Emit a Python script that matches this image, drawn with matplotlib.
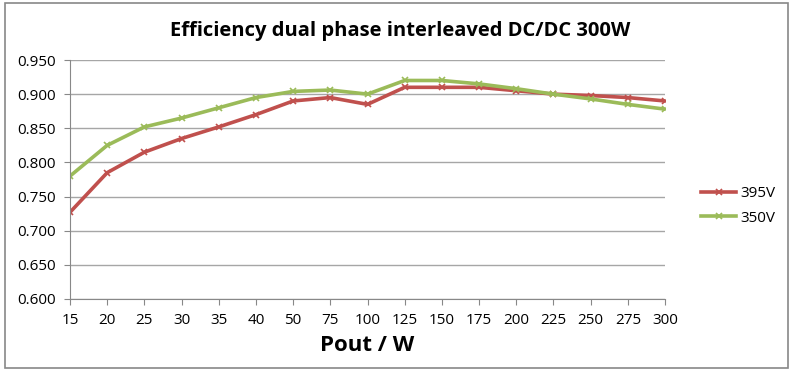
import matplotlib
matplotlib.use("Agg")
import matplotlib.pyplot as plt
from matplotlib.patches import Rectangle

plt.rcParams['font.family'] = ['Open Sans', 'DejaVu Sans']

categories = ["15", "20", "25", "30", "35", "40", "50", "75", "100", "125",
              "150", "175", "200", "225", "250", "275", "300"]
v395 = [0.727, 0.785, 0.815, 0.835, 0.852, 0.870, 0.890, 0.895, 0.885, 0.910,
        0.910, 0.910, 0.905, 0.900, 0.898, 0.895, 0.890]
v350 = [0.780, 0.825, 0.852, 0.865, 0.880, 0.895, 0.904, 0.906, 0.900, 0.920,
        0.920, 0.915, 0.908, 0.900, 0.893, 0.885, 0.878]
yticks = [0.600, 0.650, 0.700, 0.750, 0.800, 0.850, 0.900, 0.950]

fig = plt.figure(figsize=(8, 3.77), dpi=100)
ax = fig.add_axes([70/800, 1-299/377, (665-70)/800, (299-60)/377])

x = list(range(len(categories)))
ax.plot(x, v395, color='#C0504D', lw=2.6, marker='x', ms=5, mew=1.2, label='395V')
ax.plot(x, v350, color='#9BBB59', lw=2.6, marker='x', ms=5, mew=1.2, label='350V')

ax.set_xlim(0, len(categories)-1)
ax.set_ylim(0.6, 0.95)
ax.set_xticks(x)
ax.set_xticklabels(categories)
ax.set_yticks(yticks)
ax.set_yticklabels([f"{t:.3f}" for t in yticks])
ax.yaxis.grid(True, color='#A6A6A6', lw=1)
ax.set_axisbelow(True)
for s in ['top', 'right']:
    ax.spines[s].set_visible(False)
ax.spines['left'].set_color('#888888')
ax.spines['bottom'].set_color('#888888')
ax.tick_params(axis='x', length=4, color='#888888', labelsize=11, pad=6)
ax.tick_params(axis='y', length=4, color='#888888', labelsize=11, pad=6)

ax.set_xlabel("Pout / W", fontsize=16, fontweight='bold', labelpad=5)
fig.text(400/800, 1-31/377, "Efficiency dual phase interleaved DC/DC 300W",
         ha='center', va='center', fontsize=14.5, fontweight='bold')

fig.legend(loc='center left', bbox_to_anchor=(701/800, 1-206/377), frameon=False,
           fontsize=11, handlelength=2.3, handletextpad=0.3, labelspacing=0.6,
           borderaxespad=0, borderpad=0)

fig.patches.append(Rectangle((5/800, 1-368/377), 783/800, 365/377, transform=fig.transFigure,
                             fill=False, edgecolor='#888888', lw=1.2))

fig.savefig("out.png", dpi=100)
